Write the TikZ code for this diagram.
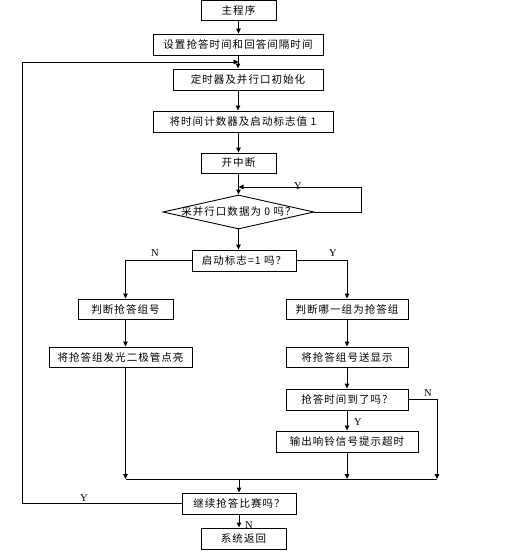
\documentclass[tikz,border=0pt]{standalone}
\usepackage{fontspec}
\setmainfont{Liberation Serif}
\newfontfamily\cjk[LetterSpace=10]{Noto Sans CJK SC}
\usetikzlibrary{arrows.meta,shapes.geometric}
\begin{document}
\begin{tikzpicture}[x=1pt,y=-1pt,
  line width=0.9pt,
  >={Triangle[length=5pt,width=4.5pt]},
  stepbox/.style={draw, rectangle, inner sep=0pt, minimum height=21pt, font=\cjk\fontsize{10.5}{12}\selectfont},
  testbox/.style={draw, diamond, aspect=4.44, inner ysep=0pt, inner xsep=-14pt, minimum width=151pt, minimum height=34pt, font=\cjk\fontsize{10.5}{12}\selectfont},
  yn/.style={font=\fontsize{10.5}{12}\selectfont, inner sep=0pt}]
\useasboundingbox (0,0) rectangle (529,553);
% boxes
\node[stepbox, minimum width=75pt, minimum height=20pt] (main) at (238.5,10.5) {主程序};
\node[stepbox, minimum width=170pt] (settime) at (238,44.5) {设置抢答时间和回答间隔时间};
\node[stepbox, minimum width=150pt] (init) at (248,79.5) {定时器及并行口初始化};
\node[stepbox, minimum width=180pt] (counter) at (243,121.5) {将时间计数器及启动标志值 1};
\node[stepbox, minimum width=75pt, minimum height=20pt] (intr) at (238.5,163) {开中断};
\node[testbox] (port) at (238.5,212) {采并行口数据为 0 吗？};
\node[stepbox, minimum width=104pt] (flag) at (244,260.5) {启动标志=1 吗？};
\node[stepbox, minimum width=95pt, minimum height=20pt] (group) at (125.5,309) {判断抢答组号};
\node[stepbox, minimum width=122pt, minimum height=20pt] (which) at (347,309) {判断哪一组为抢答组};
\node[stepbox, minimum width=143pt, minimum height=20pt] (led) at (120.5,357) {将抢答组发光二极管点亮};
\node[stepbox, minimum width=122pt, minimum height=20pt] (show) at (347,357) {将抢答组号送显示};
\node[stepbox, minimum width=122pt] (timeup) at (347,399.5) {抢答时间到了吗？};
\node[stepbox, minimum width=142pt] (bell) at (347,441.5) {输出响铃信号提示超时};
\node[stepbox, minimum width=114pt] (again) at (239,503.5) {继续抢答比赛吗？};
\node[stepbox, minimum width=85pt] (back) at (243.5,538.5) {系统返回};
% joints
\coordinate (loopin) at (238.5,62);
\coordinate (loopleft) at (22,62);
\coordinate (waitin) at (238.5,187);
\coordinate (mergeL) at (125.5,479);
\coordinate (mergeR) at (437,479);
% connectors
\draw[->] (main.south) -- (main.south |- settime.north);
\draw[->] (settime.south) -- (settime.south |- init.north);
\draw[->] (init.south -| settime.south) -- (settime.south |- counter.north);
\draw[->] (counter.south -| intr.south) -- (intr.north);
\draw[->] (intr.south) -- (port.north);
\draw[->] (port.east) -- ++(47,0) |- (waitin);
\node[yn] at (298,186) {Y};
\draw[->] (port.south) -- (port.south |- flag.north);
\draw[->] (flag.west) -| (group.north);
\node[yn] at (155,253) {N};
\draw[->] (flag.east) -| (which.north);
\node[yn] at (333,253) {Y};
\draw[->] (group.south) -- (group.south |- led.north);
\draw[->] (which.south) -- (show.north);
\draw[->] (show.south) -- (timeup.north);
\draw[->] (timeup.south) -- (bell.north);
\node[yn] at (358,422) {Y};
\draw[->] (timeup.east) -| (mergeR);
\node[yn] at (428,393) {N};
\draw[->] (group.south |- led.south) -- (mergeL);
\draw[->] (bell.south) -- (bell.south |- mergeL);
\draw (mergeL) -- (mergeR);
\draw[->] (again.north |- mergeL) -- (again.north);
\draw[->] (again.south) -- (again.south |- back.north);
\node[yn] at (249,525) {N};
\draw[->] (again.west) -| (loopleft) -- (loopin);
\node[yn] at (84,498) {Y};
\end{tikzpicture}
\end{document}
